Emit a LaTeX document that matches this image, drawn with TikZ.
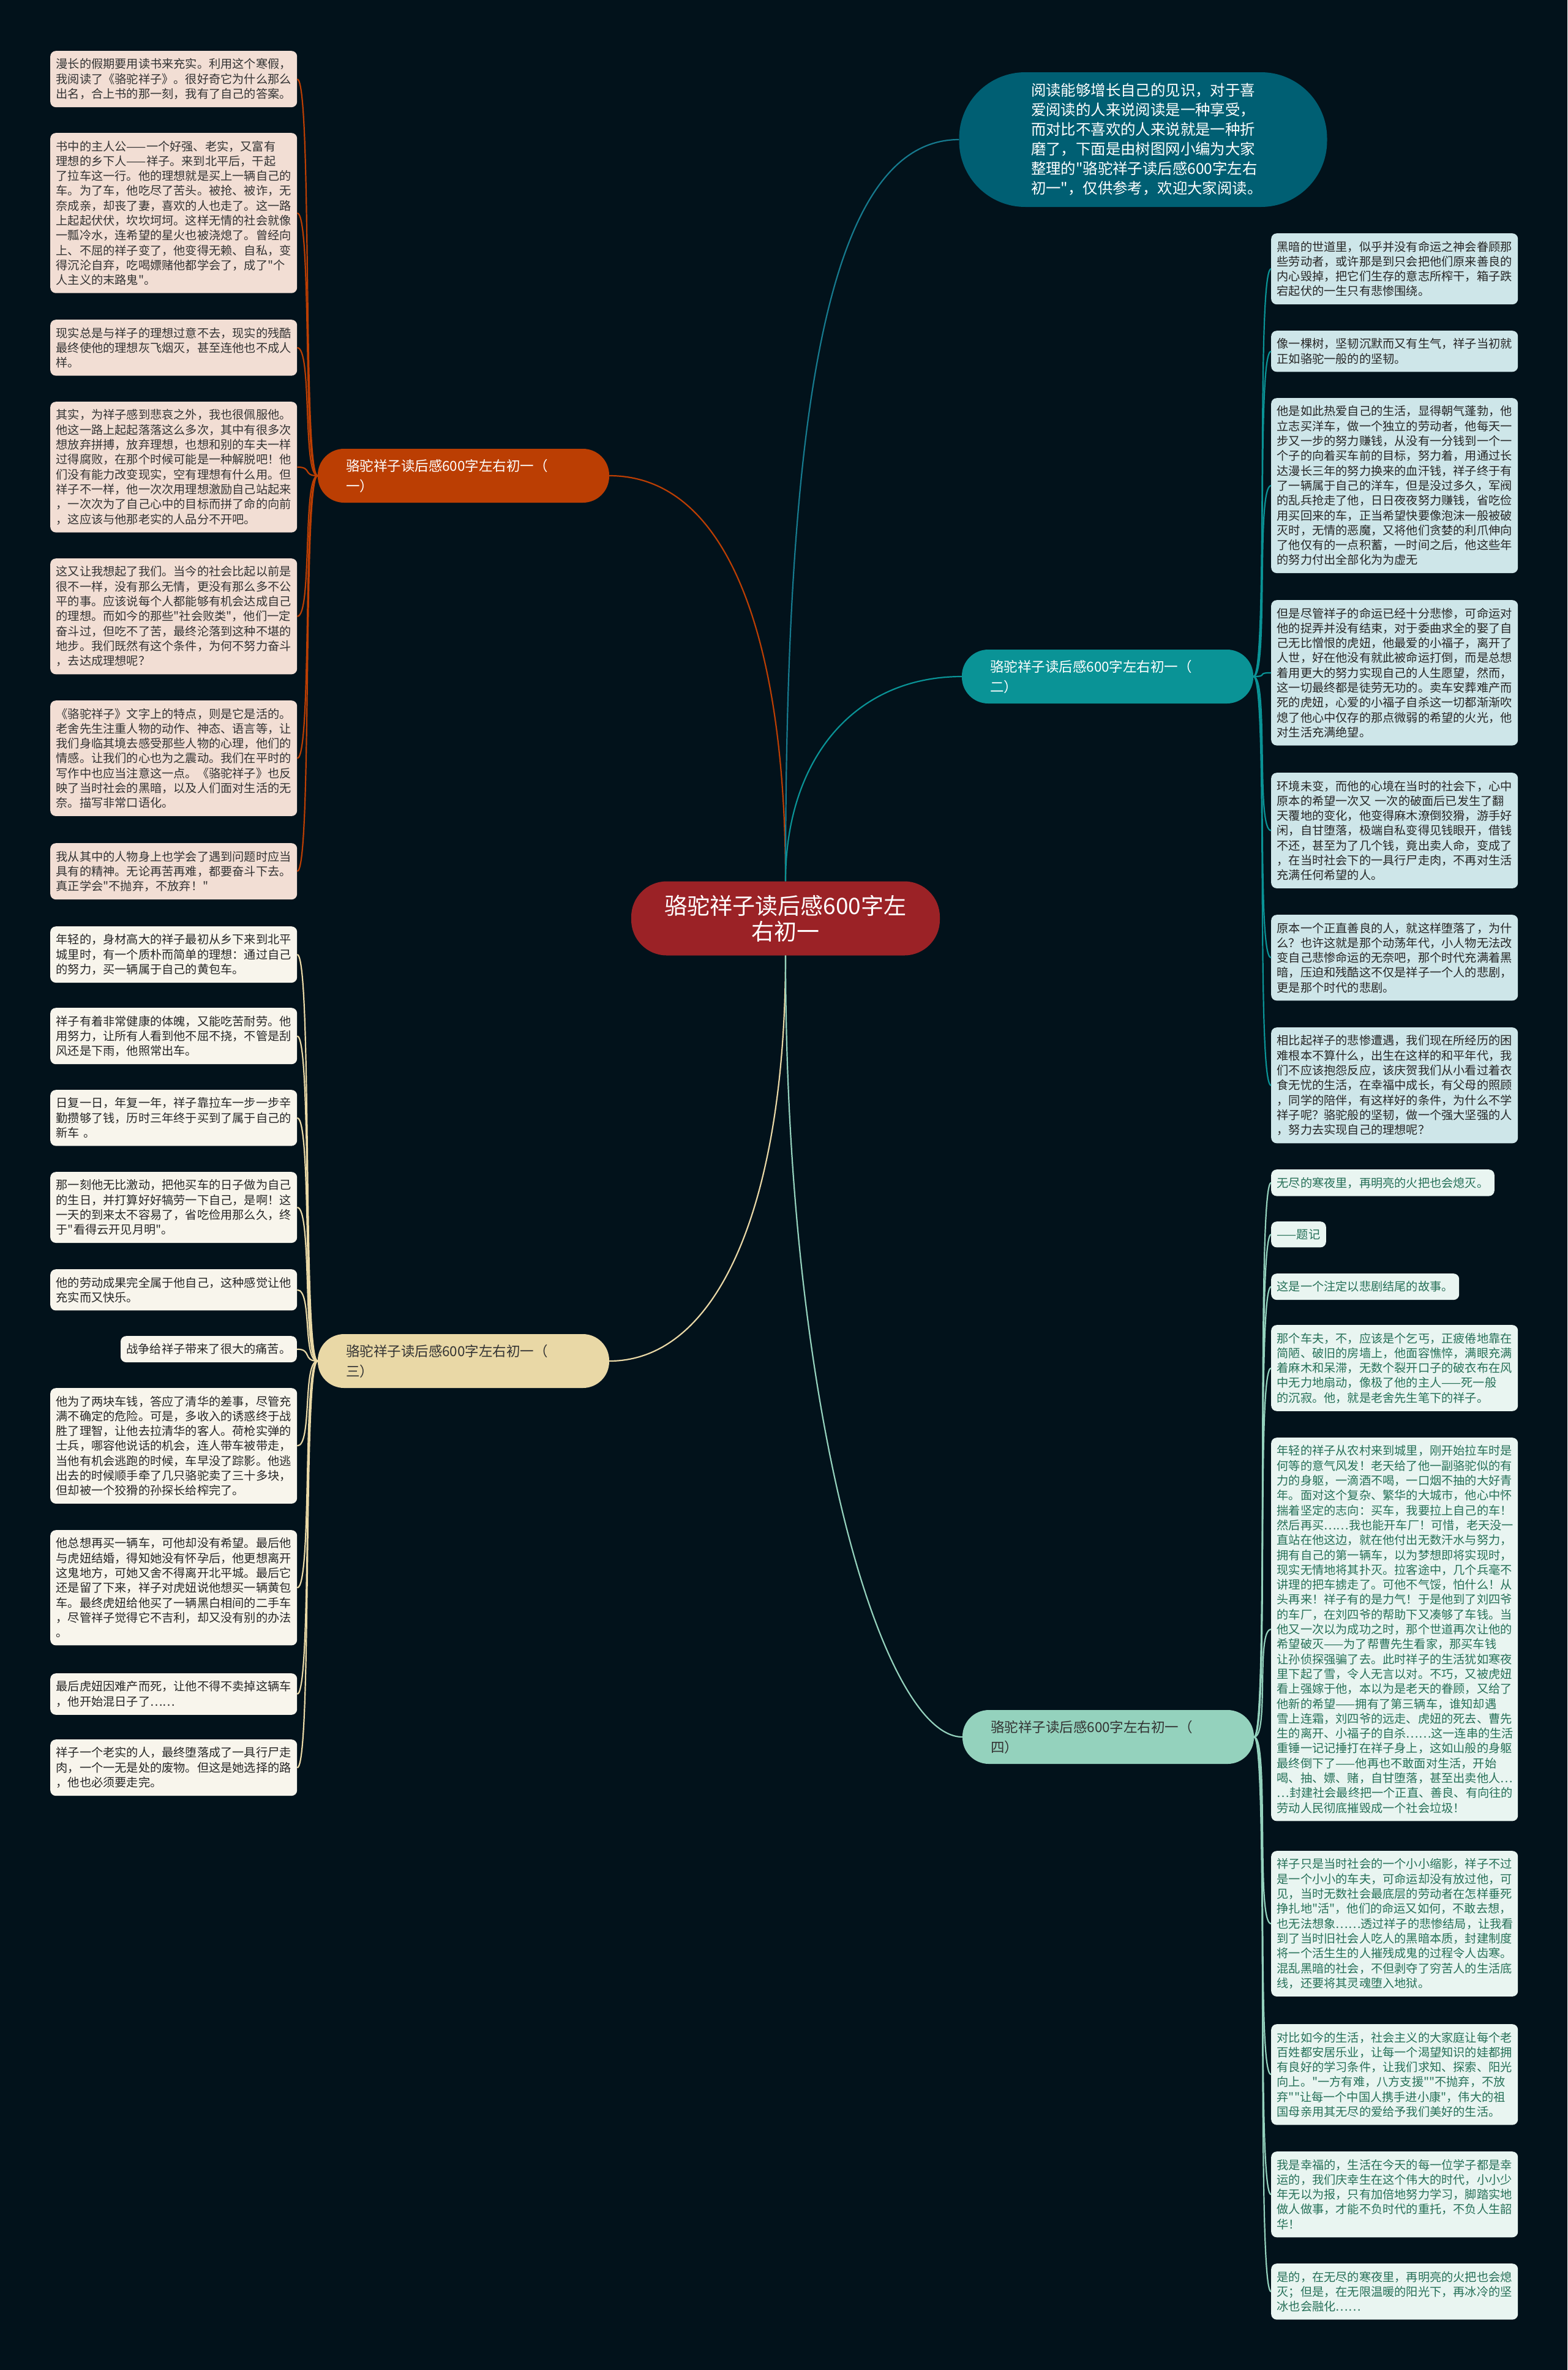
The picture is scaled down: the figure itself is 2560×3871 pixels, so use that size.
\documentclass[tikz,border=0pt]{standalone}
\usepackage{fontspec}
\setmainfont{Noto Sans CJK SC}[Ligatures=TeXOff]
% colours
\definecolor{night}{RGB}{2,18,27}
\definecolor{rootred}{RGB}{155,34,38}
\definecolor{introblue}{RGB}{0,95,115}
\definecolor{introline}{RGB}{22,122,142}
\definecolor{one}{RGB}{187,62,3}
\definecolor{two}{RGB}{10,147,150}
\definecolor{three}{RGB}{233,216,166}
\definecolor{four}{RGB}{148,210,189}
\definecolor{onefill}{RGB}{242,222,212}
\definecolor{twofill}{RGB}{206,230,233}
\definecolor{threefill}{RGB}{248,245,236}
\definecolor{fourfill}{RGB}{233,245,241}
\definecolor{fourtext}{RGB}{38,112,88}
\begin{document}
\begin{tikzpicture}[x=1pt,y=-1pt,
    box/.style={rounded corners=9pt,inner xsep=9.5pt,inner ysep=12.5pt,align=left,
        font={\fontsize{19.2}{24.3}\selectfont}},
    wide/.style={text width=384pt},
    leafone/.style={box,fill=onefill,text=black!80,anchor=north west},
    leaftwo/.style={box,fill=twofill,text=black!85,anchor=north west},
    leafthree/.style={box,fill=threefill,text=black!85,anchor=north west},
    leaffour/.style={box,fill=fourfill,text=fourtext,anchor=north west},
    topic/.style={rounded corners=43pt,minimum height=88pt,text width=384pt,
        inner xsep=46pt,align=left,font={\fontsize{22.5}{33}\selectfont}},
    wire/.style={line width=2.2pt}]
\useasboundingbox (0,0) rectangle (2560,3871);
\fill[night] (0,0) rectangle (2560,3871);
% centre
    \node[fill=rootred,text=white,rounded corners=58pt,minimum width=504pt,minimum height=121pt,
        align=center,font={\fontsize{37}{42}\selectfont}] (root) at (1283,1500) {骆驼祥子读后感600字左\\右初一};
    \node[fill=introblue,text=white,rounded corners=108pt,minimum width=601pt,minimum height=220pt,
        text width=366pt,align=left,font={\fontsize{24.4}{32}\selectfont}] (intro) at (1867,228) {阅读能够增长自己的见识，对于喜\\爱阅读的人来说阅读是一种享受，\\而对比不喜欢的人来说就是一种折\\磨了，下面是由树图网小编为大家\\整理的"骆驼祥子读后感600字左右\\初一"，仅供参考，欢迎大家阅读。};
% branches
    \node[topic,fill=one,text=white] (b1) at (757,777) {骆驼祥子读后感600字左右初一（\\一）};
    \node[topic,fill=two,text=white] (b2) at (1809,1105) {骆驼祥子读后感600字左右初一（\\二）};
    \node[topic,fill=three,text=black!80] (b3) at (757,2223) {骆驼祥子读后感600字左右初一（\\三）};
    \node[topic,fill=four,text=black!80] (b4) at (1810,2837) {骆驼祥子读后感600字左右初一（\\四）};
% branch one
    \node[leafone,wide] (l1) at (82,83) {漫长的假期要用读书来充实。利用这个寒假，\\我阅读了《骆驼祥子》。很好奇它为什么那么\\出名，合上书的那一刻，我有了自己的答案。};
    \node[leafone,wide] (l2) at (82,217) {书中的主人公——一个好强、老实，又富有\\理想的乡下人——祥子。来到北平后，干起\\了拉车这一行。他的理想就是买上一辆自己的\\车。为了车，他吃尽了苦头。被抢、被诈，无\\奈成亲，却丧了妻，喜欢的人也走了。这一路\\上起起伏伏，坎坎坷坷。这样无情的社会就像\\一瓢冷水，连希望的星火也被浇熄了。曾经向\\上、不屈的祥子变了，他变得无赖、自私，变\\得沉沦自弃，吃喝嫖赌他都学会了，成了"个\\人主义的末路鬼"。};
    \node[leafone,wide] (l3) at (82,522) {现实总是与祥子的理想过意不去，现实的残酷\\最终使他的理想灰飞烟灭，甚至连他也不成人\\样。};
    \node[leafone,wide] (l4) at (82,656) {其实，为祥子感到悲哀之外，我也很佩服他。\\他这一路上起起落落这么多次，其中有很多次\\想放弃拼搏，放弃理想，也想和别的车夫一样\\过得腐败，在那个时候可能是一种解脱吧！他\\们没有能力改变现实，空有理想有什么用。但\\祥子不一样，他一次次用理想激励自己站起来\\，一次次为了自己心中的目标而拼了命的向前\\，这应该与他那老实的人品分不开吧。};
    \node[leafone,wide] (l5) at (82,912) {这又让我想起了我们。当今的社会比起以前是\\很不一样，没有那么无情，更没有那么多不公\\平的事。应该说每个人都能够有机会达成自己\\的理想。而如今的那些"社会败类"，他们一定\\奋斗过，但吃不了苦，最终沦落到这种不堪的\\地步。我们既然有这个条件，为何不努力奋斗\\，去达成理想呢？};
    \node[leafone,wide] (l6) at (82,1144) {《骆驼祥子》文字上的特点，则是它是活的。\\老舍先生注重人物的动作、神态、语言等，让\\我们身临其境去感受那些人物的心理，他们的\\情感。让我们的心也为之震动。我们在平时的\\写作中也应当注意这一点。《骆驼祥子》也反\\映了当时社会的黑暗，以及人们面对生活的无\\奈。描写非常口语化。};
    \node[leafone,wide] (l7) at (82,1377) {我从其中的人物身上也学会了遇到问题时应当\\具有的精神。无论再苦再难，都要奋斗下去。\\真正学会"不抛弃，不放弃！"};
% branch two
    \node[leaftwo,wide] (r1) at (2076,381) {黑暗的世道里，似乎并没有命运之神会眷顾那\\些劳动者，或许那是到只会把他们原来善良的\\内心毁掉，把它们生存的意志所榨干，箱子跌\\宕起伏的一生只有悲惨围绕。};
    \node[leaftwo,wide] (r2) at (2076,540) {像一棵树，坚韧沉默而又有生气，祥子当初就\\正如骆驼一般的的坚韧。};
    \node[leaftwo,wide] (r3) at (2076,650) {他是如此热爱自己的生活，显得朝气蓬勃，他\\立志买洋车，做一个独立的劳动者，他每天一\\步又一步的努力赚钱，从没有一分钱到一个一\\个子的向着买车前的目标，努力着，用通过长\\达漫长三年的努力换来的血汗钱，祥子终于有\\了一辆属于自己的洋车，但是没过多久，军阀\\的乱兵抢走了他，日日夜夜努力赚钱，省吃俭\\用买回来的车，正当希望快要像泡沫一般被破\\灭时，无情的恶魔，又将他们贪婪的利爪伸向\\了他仅有的一点积蓄，一时间之后，他这些年\\的努力付出全部化为为虚无};
    \node[leaftwo,wide] (r4) at (2076,980) {但是尽管祥子的命运已经十分悲惨，可命运对\\他的捉弄并没有结束，对于委曲求全的娶了自\\己无比憎恨的虎妞，他最爱的小福子，离开了\\人世，好在他没有就此被命运打倒，而是总想\\着用更大的努力实现自己的人生愿望，然而，\\这一切最终都是徒劳无功的。卖车安葬难产而\\死的虎妞，心爱的小福子自杀这一切都渐渐吹\\熄了他心中仅存的那点微弱的希望的火光，他\\对生活充满绝望。};
    \node[leaftwo,wide] (r5) at (2076,1262) {环境未变，而他的心境在当时的社会下，心中\\原本的希望一次又 一次的破面后已发生了翻\\天覆地的变化，他变得麻木潦倒狡猾，游手好\\闲，自甘堕落，极端自私变得见钱眼开，借钱\\不还，甚至为了几个钱，竟出卖人命，变成了\\，在当时社会下的一具行尸走肉，不再对生活\\充满任何希望的人。};
    \node[leaftwo,wide] (r6) at (2076,1494) {原本一个正直善良的人，就这样堕落了，为什\\么？也许这就是那个动荡年代，小人物无法改\\变自己悲惨命运的无奈吧，那个时代充满着黑\\暗，压迫和残酷这不仅是祥子一个人的悲剧，\\更是那个时代的悲剧。};
    \node[leaftwo,wide] (r7) at (2076,1678) {相比起祥子的悲惨遭遇，我们现在所经历的困\\难根本不算什么，出生在这样的和平年代，我\\们不应该抱怨反应，该庆贺我们从小看过着衣\\食无忧的生活，在幸福中成长，有父母的照顾\\，同学的陪伴，有这样好的条件，为什么不学\\祥子呢？骆驼般的坚韧，做一个强大坚强的人\\，努力去实现自己的理想呢？};
% branch three
    \node[leafthree,wide] (m1) at (82,1513) {年轻的，身材高大的祥子最初从乡下来到北平\\城里时，有一个质朴而简单的理想：通过自己\\的努力，买一辆属于自己的黄包车。};
    \node[leafthree,wide] (m2) at (82,1646) {祥子有着非常健康的体魄，又能吃苦耐劳。他\\用努力，让所有人看到他不屈不挠，不管是刮\\风还是下雨，他照常出车。};
    \node[leafthree,wide] (m3) at (82,1780) {日复一日，年复一年，祥子靠拉车一步一步辛\\勤攒够了钱，历时三年终于买到了属于自己的\\新车 。};
    \node[leafthree,wide] (m4) at (82,1914) {那一刻他无比激动，把他买车的日子做为自己\\的生日，并打算好好犒劳一下自己，是啊！这\\一天的到来太不容易了，省吃俭用那么久，终\\于"看得云开见月明"。};
    \node[leafthree,wide] (m5) at (82,2073) {他的劳动成果完全属于他自己，这种感觉让他\\充实而又快乐。};
    \node[leafthree,anchor=north east] (m6) at (485,2182) {战争给祥子带来了很大的痛苦。};
    \node[leafthree,wide] (m7) at (82,2267) {他为了两块车钱，答应了清华的差事，尽管充\\满不确定的危险。可是，多收入的诱惑终于战\\胜了理智，让他去拉清华的客人。荷枪实弹的\\士兵，哪容他说话的机会，连人带车被带走，\\当他有机会逃跑的时候，车早没了踪影。他逃\\出去的时候顺手牵了几只骆驼卖了三十多块，\\但却被一个狡猾的孙探长给榨完了。};
    \node[leafthree,wide] (m8) at (82,2499) {他总想再买一辆车，可他却没有希望。最后他\\与虎妞结婚，得知她没有怀孕后，他更想离开\\这鬼地方，可她又舍不得离开北平城。最后它\\还是留了下来，祥子对虎妞说他想买一辆黄包\\车。最终虎妞给他买了一辆黑白相间的二手车\\，尽管祥子觉得它不吉利，却又没有别的办法\\。};
    \node[leafthree,wide] (m9) at (82,2733) {最后虎妞因难产而死，让他不得不卖掉这辆车\\，他开始混日子了……};
    \node[leafthree,wide] (m10) at (82,2841) {祥子一个老实的人，最终堕落成了一具行尸走\\肉，一个一无是处的废物。但这是她选择的路\\，他也必须要走完。};
% branch four
    \node[leaffour] (s1) at (2076,1910) {无尽的寒夜里，再明亮的火把也会熄灭。};
    \node[leaffour] (s2) at (2076,1995) {——题记};
    \node[leaffour] (s3) at (2076,2080) {这是一个注定以悲剧结尾的故事。};
    \node[leaffour,wide] (s4) at (2076,2164) {那个车夫，不，应该是个乞丐，正疲倦地靠在\\简陋、破旧的房墙上，他面容憔悴，满眼充满\\着麻木和呆滞，无数个裂开口子的破衣布在风\\中无力地扇动，像极了他的主人——死一般\\的沉寂。他，就是老舍先生笔下的祥子。};
    \node[leaffour,wide] (s5) at (2076,2348) {年轻的祥子从农村来到城里，刚开始拉车时是\\何等的意气风发！老天给了他一副骆驼似的有\\力的身躯，一滴酒不喝，一口烟不抽的大好青\\年。面对这个复杂、繁华的大城市，他心中怀\\揣着坚定的志向：买车，我要拉上自己的车！\\然后再买……我也能开车厂！可惜，老天没一\\直站在他这边，就在他付出无数汗水与努力，\\拥有自己的第一辆车，以为梦想即将实现时，\\现实无情地将其扑灭。拉客途中，几个兵毫不\\讲理的把车掳走了。可他不气馁，怕什么！从\\头再来！祥子有的是力气！于是他到了刘四爷\\的车厂，在刘四爷的帮助下又凑够了车钱。当\\他又一次以为成功之时，那个世道再次让他的\\希望破灭——为了帮曹先生看家，那买车钱\\让孙侦探强骗了去。此时祥子的生活犹如寒夜\\里下起了雪，令人无言以对。不巧，又被虎妞\\看上强嫁于他，本以为是老天的眷顾，又给了\\他新的希望——拥有了第三辆车，谁知却遇\\雪上连霜，刘四爷的远走、虎妞的死去、曹先\\生的离开、小福子的自杀……这一连串的生活\\重锤一记记捶打在祥子身上，这如山般的身躯\\最终倒下了——他再也不敢面对生活，开始\\喝、抽、嫖、赌，自甘堕落，甚至出卖他人…\\…封建社会最终把一个正直、善良、有向往的\\劳动人民彻底摧毁成一个社会垃圾！};
    \node[leaffour,wide] (s6) at (2076,3023) {祥子只是当时社会的一个小小缩影，祥子不过\\是一个小小的车夫，可命运却没有放过他，可\\见，当时无数社会最底层的劳动者在怎样垂死\\挣扎地"活"，他们的命运又如何，不敢去想，\\也无法想象……透过祥子的悲惨结局，让我看\\到了当时旧社会人吃人的黑暗本质，封建制度\\将一个活生生的人摧残成鬼的过程令人齿寒。\\混乱黑暗的社会，不但剥夺了穷苦人的生活底\\线，还要将其灵魂堕入地狱。};
    \node[leaffour,wide] (s7) at (2076,3306) {对比如今的生活，社会主义的大家庭让每个老\\百姓都安居乐业，让每一个渴望知识的娃都拥\\有良好的学习条件，让我们求知、探索、阳光\\向上。"一方有难，八方支援""不抛弃，不放\\弃""让每一个中国人携手进小康"，伟大的祖\\国母亲用其无尽的爱给予我们美好的生活。};
    \node[leaffour,wide] (s8) at (2076,3514) {我是幸福的，生活在今天的每一位学子都是幸\\运的，我们庆幸生在这个伟大的时代，小小少\\年无以为报，只有加倍地努力学习，脚踏实地\\做人做事，才能不负时代的重托，不负人生韶\\华！};
    \node[leaffour,wide] (s9) at (2076,3697) {是的，在无尽的寒夜里，再明亮的火把也会熄\\灭；但是，在无限温暖的阳光下，再冰冷的坚\\冰也会融化……};
% links
    \draw[wire,one] (root.north) .. controls +(0,-380) and +(200,0) .. (b1.east);
    \draw[wire,introline] (root.north) .. controls +(0,-750) and +(-220,0) .. (intro.west);
    \draw[wire,two] (root.north) .. controls +(0,-200) and +(-175,0) .. (b2.west);
    \draw[wire,three] (root.south) .. controls +(0,400) and +(180,0) .. (b3.east);
    \draw[wire,four] (root.south) .. controls +(0,750) and +(-130,0) .. (b4.west);
    \foreach \n in {1,...,7}{
        \draw[wire,one] (b1.west) .. controls +(-25,0) and +(25,0) .. (l\n.east);
        \draw[wire,two] (b2.east) .. controls +(25,0) and +(-25,0) .. (r\n.west);
    }
    \foreach \n in {1,...,10}
        \draw[wire,three] (b3.west) .. controls +(-25,0) and +(25,0) .. (m\n.east);
    \foreach \n in {1,...,9}
        \draw[wire,four] (b4.east) .. controls +(25,0) and +(-25,0) .. (s\n.west);
\end{tikzpicture}
\end{document}
